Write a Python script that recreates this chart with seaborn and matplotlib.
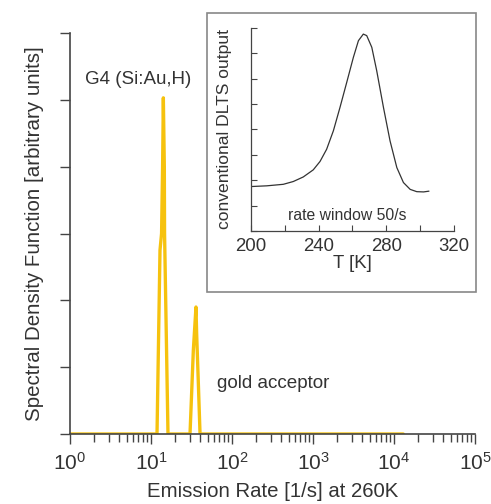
import matplotlib
matplotlib.use('Agg')
import numpy as np
import pandas as pd
import matplotlib.pyplot as plt
import matplotlib.patches as mpatches
import matplotlib.ticker as mticker
import seaborn as sns

# main curve: spectral density vs emission rate
rate = [1, 11.86, 12.91, 13.5, 13.9, 14.2, 14.6, 14.7, 16.2,
        30.3, 33.3, 35.9, 36.6, 38.4, 40.3, 13000]
sdf = [0, 0, 2.75, 3.0, 4.0, 5.03, 4.0, 3.0, 0,
       0, 1.25, 1.9, 1.5, 0.76, 0, 0]

# inset: conventional DLTS spectrum
temp_k = [199.4, 209.3, 219.1, 225, 230.9, 236.8, 240.8, 244.7, 248.7, 252.6,
          256.6, 260.5, 263.5, 266.4, 268.4, 271.4, 274.3, 278.3, 282.2, 286.2,
          290.1, 294.1, 298, 302, 305.2]
dlts = [1.75, 1.78, 1.84, 1.95, 2.13, 2.41, 2.74, 3.22, 3.95, 4.87,
        5.86, 6.84, 7.5, 7.76, 7.7, 7.24, 6.32, 4.87, 3.55, 2.5,
        1.91, 1.64, 1.55, 1.54, 1.57]

main_df = pd.DataFrame({'rate': rate, 'sdf': sdf})
inset_df = pd.DataFrame({'T': temp_k, 'dlts': dlts})

sns.set_style('ticks')
plt.rcParams['font.family'] = ['Liberation Sans', 'DejaVu Sans']
TXT = '#333333'
AX = '#444444'

fig = plt.figure(figsize=(4.91, 5.04), dpi=100)
ax = fig.add_axes([0.1426, 0.1389, 0.9674 - 0.1426, 0.9345 - 0.1389])

sns.lineplot(data=main_df, x='rate', y='sdf', ax=ax, color='#F6C20E',
             linewidth=2.4, sort=False, estimator=None)
ax.set_xscale('log')
ax.set_xlim(1, 1e5)
ax.set_ylim(0, 6)
ax.set_yticks(range(7))
ax.set_yticklabels([])
ax.set_xticks([1, 10, 100, 1e3, 1e4, 1e5])
ax.xaxis.set_minor_locator(mticker.LogLocator(base=10, subs=np.arange(2, 10)))
ax.xaxis.set_minor_formatter(mticker.NullFormatter())
ax.tick_params(axis='x', which='major', direction='out', length=7, width=1,
               colors=AX, labelcolor=TXT, labelsize=15, pad=6)
ax.tick_params(axis='x', which='minor', direction='out', length=6, width=1, colors=AX)
ax.tick_params(axis='y', direction='out', length=7, width=1, colors=AX)
for s in ['top', 'right']:
    ax.spines[s].set_visible(False)
for s in ['left', 'bottom']:
    ax.spines[s].set_color(AX)
    ax.spines[s].set_linewidth(1.2)
ax.set_xlabel('Emission Rate [1/s] at 260K', fontsize=14.7, color=TXT, labelpad=6)
ax.set_ylabel('Spectral Density Function [arbitrary units]', fontsize=14.8,
              color=TXT, labelpad=8)
ax.text(6.9, 5.31, 'G4 (Si:Au,H)', fontsize=13.5, color=TXT, ha='center', va='center')
ax.text(65, 0.76, 'gold acceptor', fontsize=13.6, color=TXT, ha='left', va='center')

# inset frame
frame = mpatches.Rectangle((207 / 491, 1 - 292 / 504), (476 - 207) / 491, (292 - 13) / 504,
                           transform=fig.transFigure, facecolor='white',
                           edgecolor='#888888', linewidth=1.2, zorder=2)
fig.patches.append(frame)

axin = fig.add_axes([251 / 491, 1 - 231 / 504, (454 - 251) / 491, (231 - 28) / 504])
axin.set_zorder(3)
axin.patch.set_alpha(0)
sns.lineplot(data=inset_df, x='T', y='dlts', ax=axin, color='#333333',
             linewidth=0.9, sort=False, estimator=None)
axin.set_xlim(200, 320)
axin.set_ylim(0, 8)
axin.set_xticks([200, 240, 280, 320])
axin.xaxis.set_minor_locator(mticker.MultipleLocator(20))
axin.set_yticks(range(9))
axin.set_yticklabels([])
axin.tick_params(axis='x', which='both', direction='in', length=4, width=0.8,
                 colors=AX, labelcolor=TXT, labelsize=13.4, pad=5)
axin.tick_params(axis='y', direction='in', length=4, width=0.8, colors=AX)
for s in ['top', 'right']:
    axin.spines[s].set_visible(False)
for s in ['left', 'bottom']:
    axin.spines[s].set_color(AX)
    axin.spines[s].set_linewidth(0.9)
axin.set_xlabel('T [K]', fontsize=13.4, color=TXT, labelpad=0)
axin.set_ylabel('conventional DLTS output', fontsize=12.6, color=TXT, labelpad=10)
axin.text(256.7, 0.63, 'rate window 50/s', fontsize=11.3, color=TXT, ha='center', va='center')

fig.savefig('out.png', dpi=100)
